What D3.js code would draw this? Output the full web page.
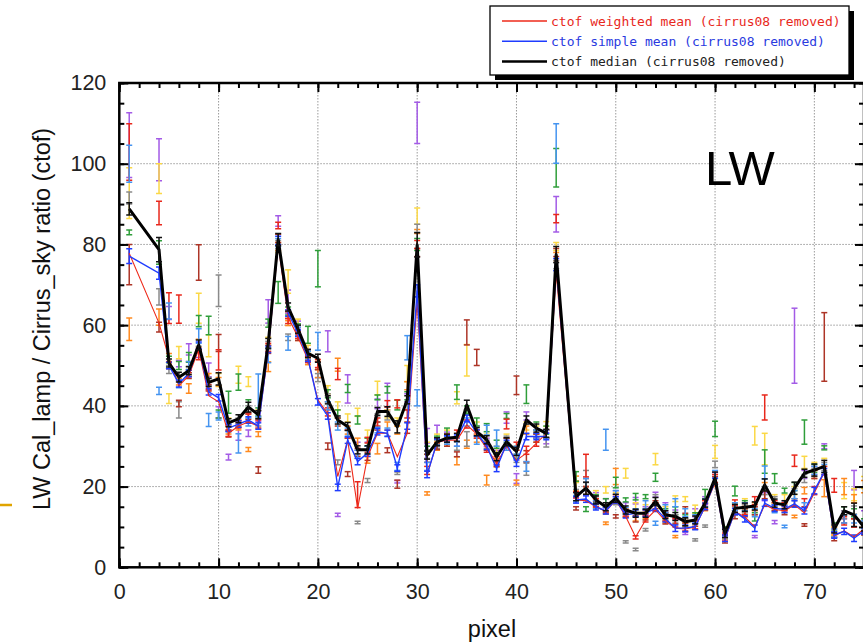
<!DOCTYPE html>
<html><head><meta charset="utf-8">
<script src="https://cdn.jsdelivr.net/npm/d3@7"></script>
<style>body{margin:0;background:#fff}svg{display:block}</style>
</head><body><svg id="c" width="863" height="644"></svg>
<script>
// ---------- DATA ----------
const pixels = [1,4,5,6,7,8,9,10,11,12,13,14,15,16,17,18,19,20,21,22,23,24,25,26,27,28,29,30,31,32,33,34,35,36,37,38,39,40,41,42,43,44,
  46,47,48,49,50,51,52,53,54,55,56,57,58,59,60,61,62,63,64,65,66,67,68,69,70,71,72,73,74,75];
const xTickLabels = [0,10,20,30,40,50,60,70];
const yTickLabels = [0,20,40,60,80,100,120];

const medianVals = [88.8,78.7,50.6,47.1,48.7,55.1,45.8,46.7,35.8,36.8, 39.7,37.8,55.5,81.2,64.5,59,53,51.8,41.5,36.5, 34.9,29.1,29.1,38.6,38.6,34.8,41.5,79.9,27.8,31.1, 32,32.2,40.2,33.6,31.6,27.4,31.1,28.7,36.5,34.5, 33.2,77.5,
  17.5,19.6,16.7,15,17.1,14.2,13.4,13.4,16.3,13, 12.6,11.3,11.7,15.9,22.1,8.4,14.6,14.9,15.2,20.4, 15.9,15.5,19.6,23.3,24.1,25,9.5,14,13,10];
const medianErr = [1.5,3,1,1.2,1,1.2,1,1.5,1,1, 1.2,1,1.2,1.5,1,1,1,1,1,1, 1,1,1,1,1.2,1.5,1,3,1,1, 1,1,1.2,1,1,1,1,1,1,1, 1,2,
  1,1.5,1,1,1,1,1,1,1,1, 1,1,1,1,1.5,1,1,1,1,1.5, 1,1,1.5,1,1.5,1.5,1,1,2.9,1];
const simpleMeanVals = [77.1,72.9,50,45.5,48,55,43.5,42,34.5,35.5, 36.5,35,54,81,63,58,51.8,41,37.5,19.8, 31.5,26.2,28.3,33.6,33.2,24.6,35,68.5,23,31, 31.8,32,36.9,33.3,30,24.5,30.7,25.8,32.4,32.4, 32.4,75,
  16.7,16.9,15,14,16.7,13,13.4,13.4,14.6,12, 9.7,9.7,10.1,15.1,21.3,7.2,13.8,12,9.7,15.9, 14.6,14.4,15.7,14,19,23.7,8,8.9,7.2,9];
const simpleMeanErr = [1.8,1.5,0.8,0.8,0.8,0.8,0.8,0.8,0.8,0.8, 0.8,0.8,0.8,1,0.8,0.8,0.8,0.8,0.8,0.8, 0.8,0.8,0.8,0.8,0.8,0.8,0.8,1.5,0.8,0.8, 0.8,0.8,0.8,0.8,0.8,0.8,0.8,0.8,0.8,0.8, 0.8,1.5,
  0.8,0.8,0.8,0.8,0.8,0.8,0.8,0.8,0.8,0.8, 0.8,0.8,0.8,0.8,0.8,0.8,0.8,0.8,0.8,0.8, 0.8,0.8,0.8,0.8,0.8,0.8,0.8,0.8,0.8,0.8];
const weightedMeanVals = [77.8,60.5,51.8,45,47.5,54,42.5,41,33.2,35, 36,35,53.5,80,62,57,51.5,41.5,38,22.5, 31.5,14.6,27.4,33.2,33.2,27.4,33.2,66,22.9,31, 31.5,31.5,35.3,33,29.5,25.8,30,26.5,28.3,30.7, 33.2,73,
  16.7,16.5,15,13.8,16.7,12.6,7.5,11.7,14.2,11.5, 9.7,9.5,10,15,21,7,13.8,12.5,10,15.5, 14.3,14,15.5,13.5,18.5,23.5,7.8,9,7.5,9.5];

// individual runs (value and half error), aligned with pixels
const purpleVal = [104.6,101,63,50.5,54,53,48.9,38.4,27.3,33.5, 33.2,37.5,63.4,85.8,65.8,60,53,48,56,13, 44.2,30,30,40.5,42.3,21.2,42,110.1,32.6,33.6, 32.5,31,37,34,31,28,37.1,22,37.5,33, 32,87.5,
  18,21,17.5,16,18,15,16.5,14,18,15, 13,8.4,13.5,16.5,22,8.5,13.5,15,7.6,17.5, 11.2,15.5,54.9,23,24,30,8,13,21.6,13];
const purpleErr = [8,5.2,1.6,0.8,1.4,1,1.7,1.4,0.7,2, 0.8,1.3,2.9,1.3,2.9,1,1,1,2.6,0.4, 3.5,1,1,1.2,3.3,0.3,1,5.1,1.8,1.6, 1,1,1,1,1,1,1.4,1.2,1,1, 1.4,4.4,
  0.8,1,1,1,1,1,0.8,1,0.6,1, 1.2,0.3,1,1,1.5,1,0.5,1,0.3,1, 0.4,1,9.3,1,1,0.6,0.6,1,2.4,1];
const yellowVal = [92.7,96.3,41.8,53.2,50,64.2,54.9,46.4,36,47.7, 46,38,56,79,70.8,60.5,54,50,44,40, 37,38.4,33,44.4,38,36,48,87,30,32, 33,42,51.3,35,32,29,32,29,35,34, 35.5,79.5,
  20,21,18,19.2,17.5,23.3,15,14.5,26.8,14, 17,16.9,14.4,16,28.6,9,15,16,32.6,29.3, 17,17,19,26,25,26,9,19,18,21];
const yellowErr = [6.3,3.7,1.2,1.5,1,3.7,2.7,1.6,1,2.1, 1.2,1,1,1,2.9,1,1,1,1,1, 1,1,1,1.7,1,1,2,2,1,1, 1,1.5,3.9,1,1,1,1,1,1,1, 0.6,1,
  1,1,1,0.8,1,1.2,1,1,1.4,1, 0.7,0.6,1,1,1.6,1,1,1,2.3,3.9, 1,1,1,1.5,1,1,1,2,1.5,1.5];
const orangeVal = [59,62,52,46,44.3,55.5,47,46,34,35, 29.2,33,49.7,79.5,60.5,57,51,48,40,50.2, 34,30.5,26.6,29.4,35,34,45,83.2,18.3,30, 31,26.4,30.5,32,21.6,26,31,21,34,32, 33,77,
  22,19,16,10.9,22.5,13.5,12.5,13,15,12, 7.6,11,10.5,15,21,8,14,14.5,15,20, 15,15,12.6,19,23,19.6,9,20,17,20];
const orangeErr = [2.8,2,1,0.8,1.2,1,1,1,1,1, 0.5,0.6,1.2,1,0.6,0.8,0.8,1,1,1.6, 1,1.5,0.8,1.3,1,1,1,0.5,0.4,1, 1,1,1,1,1.2,1,1,0.6,1,1, 1,1,
  0.6,1,1,0.3,2,1,1,1,1,1, 0.3,1,1,1,1,1,1,1,1,1, 1,1,0.3,0.8,1,2.1,1,2,1,1.5];
const greenVal = [83,78,51.5,50,52,61,59.9,38,40.9,45.9, 40.5,38.5,60.5,68.1,63.5,59.5,57.6,74,43,38, 44.3,36.5,31,42.1,44,40.2,42.5,80,29,31.5, 33.5,43.4,39,36,34.6,30.5,37.5,28,42.9,35, 34,99,
  22.5,14.4,17,16,21,16.7,17.5,17.5,22.3,13.5, 14,12,12.5,18,34.3,9,18.9,15.5,12.5,26.2, 22,19,20,33.5,24.5,29.6,10,14,13.5,11];
const greenErr = [0.6,2.9,0.8,1,1.2,1.4,2.3,1,2.7,2, 1,1,1,2.7,1,0.8,2.1,4.5,1,1, 1,1,1,0.6,0.8,1.2,1,1.5,1,1, 1,1.8,1,1,1,1,0.6,1,2.3,1, 1,4.8,
  1.2,0.6,1,1,1.3,0.5,0.8,0.5,1,1, 1,1,1,1.3,1.9,1,1.2,1,1,2.9, 1.2,0.6,1,3,1,0.5,1,1,1,1];
const grayVal = [91.5,67,49,39,49,54,46,68.5,35,36, 39,36,55,80,57,58,53,47,42,26, 33,11.1,21.5,37,37.5,23.3,40,84,28,30.5, 31.5,30,31.8,33,30.5,27,31.5,27,24.3,33, 31,75,
  18.5,22.5,16.5,14.5,16.5,6.3,4.4,9.3,17,12.5, 12,11,6.8,10.2,25.5,8,14,14.5,14,19, 16.5,14.5,18,22,23.5,25,8.5,13,14.2,10];
const grayErr = [1.5,2,1,2,0.8,0.8,1,3.9,1,1, 1,1,1,1,0.8,0.8,0.8,1,1,0.6, 1,0.3,0.5,1,1,0.3,1,1,1,1, 1,1,1.8,1,1,1,1,1,1.5,1, 1.2,1,
  0.8,1.5,1,1,1,0.3,0.3,0.3,1,1, 1,1,0.3,0.3,0.8,1,1,1,1,1, 1,1,1.5,1,1,1,1,1,1,1];
const brownVal = [75,59.5,50,40.6,47.5,75.5,44.5,55.6,33,35.5, 37.5,24.1,54,81.5,62.5,57,52,50,30,36, 23.1,28.5,27.5,35,29,20.6,34.6,78,27,30, 31,28,58.2,52,30,25.7,31,45.1,27.5,32, 33,78,
  14.6,19,15.5,14,12.6,13,12,12.5,15.5,11.5, 11.5,14.2,11,15,21.5,7,13,13.5,14,18, 15,14,16,10.5,23,54.6,7,12,11,9];
const brownErr = [5,1.2,0.8,0.8,0.7,4.4,0.8,2.1,0.7,0.8, 0.8,0.8,1,1,0.8,0.8,0.8,1,0.8,1, 0.6,1,1,1,0.6,1,1.4,1,1,0.8, 1,0.6,3.1,2,1,0.8,1,2.3,1.4,1, 1,1,
  0.4,1,0.8,0.8,0.4,0.6,0.8,0.8,1,0.8, 0.8,0.8,0.8,0.8,1,1,1,1,1,1, 1,1,1,0.3,1,8.5,0.4,1,1,1];
const redVal = [102.9,87.8,64.2,64,48,52.6,45,51.4,33.2,35.5, 37,35.5,54.5,84.7,61,57.5,51.5,50.5,38.5,47.9, 33,18,31.5,36,40.5,40.5,38,80,24,31, 32,33,35.5,33,29.5,26.5,35.5,30,29,31, 33,86.4,
  18,25.2,16,14.5,17,13.5,7.4,12,15,12.5, 11,10,10.5,15.5,22,7.5,16,14,16.5,39.6, 15.5,15,26.4,16,19,24,20.3,11.5,11,9.5];
const redErr = [7,2.9,3.8,3.5,0.8,1.2,1,2.5,0.8,1, 1,1,1,0.8,0.6,0.8,0.8,1,1,1.4, 1,3.2,0.7,1,0.8,1,1,1,1,0.8, 1,1,1,1,1,1,1.2,1,1,1, 1,1,
  0.8,2.8,1,0.8,1,0.8,0.4,0.8,1,1, 1,1,1,1,1,1,0.7,1,1,3.1, 1,1,1.4,1,1,1,1.7,1,1,1];
const lightblueVal = [100,43.7,63.5,45.5,50,57.3,36.5,37.5,34.5,30.7, 36,42.6,52.5,80.5,55.5,58.5,52.5,56,40,35, 33.5,28,29,34,33.5,25,54.4,42,25,31, 31.5,31,36,31.5,34,32,30,29,25,33, 33,105,
  17,20.5,15.5,31.6,18,14,13.5,15.5,10.9,14.5, 16,13.5,12,16,23,8.5,15,15,13.5,23.5, 14.5,10.1,18,15,24,24.5,8.5,12,12,10.5];
const lightblueErr = [4.6,0.9,2,1,1,1.8,1.6,1,1,2.4, 1,5.3,1.8,1,1.7,1,1,2.2,1,1, 1,1,1,0.7,1,1,3,2,1,0.8, 1,1,1,1,1.2,2,1,1,1.2,1, 1,4.9,
  0.8,1.5,1,2.6,1,0.8,1,1,0.5,1, 1,1,1,1,1,1,1,1,1,1.6, 1,0.3,1,1,1,1,1,1,1,1];

const runs = [
  {name:'purple', color:'#a35be6', val:purpleVal, err:purpleErr},
  {name:'yellow', color:'#fbd846', val:yellowVal, err:yellowErr},
  {name:'orange', color:'#ff8a1f', val:orangeVal, err:orangeErr},
  {name:'green', color:'#2f9e3a', val:greenVal, err:greenErr},
  {name:'gray', color:'#8a8a8a', val:grayVal, err:grayErr},
  {name:'brown', color:'#ad3527', val:brownVal, err:brownErr},
  {name:'red', color:'#e8281c', val:redVal, err:redErr},
  {name:'lightblue', color:'#4594f0', val:lightblueVal, err:lightblueErr}
];
const legendLabels = ['ctof weighted mean (cirrus08 removed)','ctof simple mean (cirrus08 removed)','ctof median (cirrus08 removed)'];

// ---------- CHART ----------
const svg = d3.select('#c');
const x = d3.scaleLinear().domain([0,75]).range([119.3,864]);
const y = d3.scaleLinear().domain([0,120]).range([567.3,83]);
const [X0,X1] = x.range(), [Y0,Y1] = y.range();

svg.append('defs').append('clipPath').attr('id','clip')
  .append('rect').attr('x',X0).attr('y',Y1).attr('width',X1-X0).attr('height',Y0-Y1);

// grid
const grid = svg.append('g').attr('stroke','#9a9a9a').attr('stroke-width',1).attr('stroke-dasharray','1.5,1.5');
grid.selectAll('.gx').data(xTickLabels.filter(d=>d>0)).join('line')
  .attr('x1',d=>x(d)).attr('x2',d=>x(d)).attr('y1',Y1).attr('y2',Y0);
grid.selectAll('.gy').data(yTickLabels.filter(d=>d>0&&d<120)).join('line')
  .attr('x1',X0).attr('x2',X1).attr('y1',d=>y(d)).attr('y2',d=>y(d));

const plot = svg.append('g').attr('clip-path','url(#clip)');

// run error bars
runs.forEach(r=>{
  const g = plot.append('g').attr('stroke',r.color).attr('stroke-width',1.5).attr('fill','none');
  pixels.forEach((p,i)=>{
    const v=r.val[i], e=r.err[i];
    if(v==null) return;
    const cx=x(p), yt=y(v+e), yb=y(v-e);
    g.append('line').attr('x1',cx).attr('x2',cx).attr('y1',yt).attr('y2',yb);
    g.append('line').attr('x1',cx-3).attr('x2',cx+3).attr('y1',yt).attr('y2',yt);
    g.append('line').attr('x1',cx-3).attr('x2',cx+3).attr('y1',yb).attr('y2',yb);
  });
});

function errBars(vals, errs, color, w){
  const g = plot.append('g').attr('stroke',color).attr('stroke-width',w);
  pixels.forEach((p,i)=>{
    const cx=x(p), yt=y(vals[i]+errs[i]), yb=y(vals[i]-errs[i]);
    g.append('line').attr('x1',cx).attr('x2',cx).attr('y1',yt).attr('y2',yb);
    g.append('line').attr('x1',cx-3).attr('x2',cx+3).attr('y1',yt).attr('y2',yt);
    g.append('line').attr('x1',cx-3).attr('x2',cx+3).attr('y1',yb).attr('y2',yb);
  });
}
errBars(simpleMeanVals, simpleMeanErr, '#1f3cff', 1.5);

const line = d3.line().x((d,i)=>x(pixels[i])).y(d=>y(d));
plot.append('path').datum(weightedMeanVals).attr('d',line).attr('fill','none').attr('stroke','#ee2a1a').attr('stroke-width',1.1);
plot.append('path').datum(simpleMeanVals).attr('d',line).attr('fill','none').attr('stroke','#1f3cff').attr('stroke-width',1.4);
plot.append('path').datum(medianVals).attr('d',line).attr('fill','none').attr('stroke','#000').attr('stroke-width',3).attr('stroke-linejoin','round');
errBars(medianVals, medianErr, '#111', 1.5);

// axes (inward ticks)
const font = "'Liberation Sans', Arial, sans-serif";
function styleAxis(g){ g.select('.domain').remove(); g.selectAll('.tick line').attr('stroke','#000').attr('stroke-width',2);
  g.selectAll('text').attr('font-family',font).attr('font-size','21.5px').attr('fill','#222'); }
const minorX = d3.range(0,76,2), minorY = d3.range(0,121,5);
svg.append('g').attr('transform',`translate(0,${Y0})`).call(d3.axisBottom(x).tickValues(minorX).tickSize(-5).tickFormat('')).call(styleAxis);
svg.append('g').attr('transform',`translate(0,${Y0})`).call(d3.axisBottom(x).tickValues(xTickLabels).tickSize(-9).tickPadding(16).tickFormat(d3.format('d'))).call(styleAxis);
svg.append('g').attr('transform',`translate(0,${Y1})`).call(d3.axisTop(x).tickValues(minorX).tickSize(-5).tickFormat('')).call(styleAxis);
svg.append('g').attr('transform',`translate(0,${Y1})`).call(d3.axisTop(x).tickValues(xTickLabels).tickSize(-9).tickFormat('')).call(styleAxis);
svg.append('g').attr('transform',`translate(${X0},0)`).call(d3.axisLeft(y).tickValues(minorY).tickSize(-5).tickFormat('')).call(styleAxis);
svg.append('g').attr('transform',`translate(${X0},0)`).call(d3.axisLeft(y).tickValues(yTickLabels).tickSize(-9).tickPadding(13).tickFormat(d3.format('d'))).call(styleAxis);
svg.append('g').attr('transform',`translate(${X1},0)`).call(d3.axisRight(y).tickValues(minorY).tickSize(-5).tickFormat('')).call(styleAxis);
svg.append('g').attr('transform',`translate(${X1},0)`).call(d3.axisRight(y).tickValues(yTickLabels).tickSize(-9).tickFormat('')).call(styleAxis);

// frame
svg.append('rect').attr('x',X0).attr('y',Y1).attr('width',X1-X0).attr('height',Y0-Y1)
  .attr('fill','none').attr('stroke','#000').attr('stroke-width',2.5);

// axis titles
svg.append('text').attr('transform','rotate(-90)').attr('x',-319).attr('y',50)
  .attr('text-anchor','middle').attr('font-family',font).attr('font-size','23.5px').attr('fill','#111')
  .text('LW Cal_lamp / Cirrus_sky ratio (ctof)');
svg.append('text').attr('x',492).attr('y',637).attr('text-anchor','middle')
  .attr('font-family',font).attr('font-size','23.5px').attr('fill','#111').text('pixel');

// LW label
svg.append('text').attr('x',705).attr('y',185).attr('font-family',font).attr('font-size','49px').attr('fill','#000').text('LW');

// small orange mark at left edge
svg.append('line').attr('x1',0).attr('x2',12).attr('y1',505).attr('y2',505).attr('stroke','#e0a400').attr('stroke-width',2.5);

// legend
const lg = svg.append('g');
lg.append('rect').attr('x',495).attr('y',11).attr('width',359).attr('height',69).attr('fill','#000');
lg.append('rect').attr('x',490).attr('y',6).attr('width',359).attr('height',69).attr('fill','#fff').attr('stroke','#000').attr('stroke-width',1.3);
const lcol = ['#ee2a1a','#1f3cff','#000'], ltxt=['#e8281c','#2a3ae0','#222'], lw=[1.3,1.5,2.5];
legendLabels.forEach((t,i)=>{
  const yy = 21 + i*20.3;
  lg.append('line').attr('x1',502).attr('x2',547).attr('y1',yy).attr('y2',yy).attr('stroke',lcol[i]).attr('stroke-width',lw[i]);
  lg.append('text').attr('x',551).attr('y',yy+4.5).attr('font-family',"'DejaVu Sans Mono', monospace").attr('font-size','13px')
    .attr('fill',ltxt[i]).text(t);
});
</script></body></html>
